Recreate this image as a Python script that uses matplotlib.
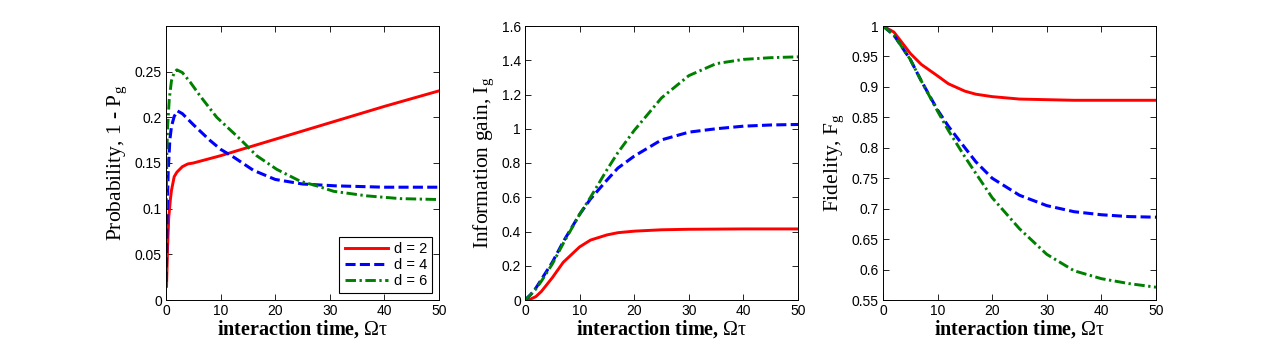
import matplotlib
matplotlib.use("Agg")
import matplotlib.pyplot as plt

# ---------------- data ----------------
# Panel 1: probability 1 - P_g
t_p2 = [0.1, 0.3, 0.5, 0.8, 1.0, 1.5, 2.0, 3.0, 4.0, 5.0, 10, 20, 30, 40, 50]
p_d2 = [0.015, 0.06, 0.09, 0.11, 0.12, 0.135, 0.140, 0.146, 0.149, 0.150, 0.158, 0.176, 0.194, 0.212, 0.229]
t_p4 = [0.05, 0.2, 0.4, 0.7, 1.0, 1.5, 2.1, 3.0, 5.0, 8.0, 10, 12.5, 16, 20, 25, 31, 40, 50]
p_d4 = [0.02, 0.09, 0.14, 0.175, 0.19, 0.201, 0.207, 0.204, 0.192, 0.175, 0.165, 0.156, 0.142, 0.132, 0.127, 0.125, 0.1235, 0.1235]
t_p6 = [0.05, 0.15, 0.3, 0.6, 1.0, 1.5, 2.0, 3.0, 4.5, 6.3, 9.3, 13.6, 16.6, 20.3, 24.6, 27.6, 30.7, 36.8, 42.9, 50]
p_d6 = [0.10, 0.16, 0.19, 0.22, 0.24, 0.249, 0.252, 0.249, 0.238, 0.223, 0.200, 0.176, 0.158, 0.143, 0.130, 0.125, 0.119, 0.114, 0.111, 0.110]

# Panel 2: information gain I_g
t_i = [0, 1, 2, 3, 5, 7, 10, 12, 15, 17, 20, 25, 30, 35, 40, 45, 50]
i_d2 = [0, 0.005, 0.02, 0.05, 0.13, 0.22, 0.31, 0.35, 0.38, 0.393, 0.402, 0.410, 0.413, 0.414, 0.415, 0.415, 0.415]
i_d4 = [0, 0.03, 0.07, 0.12, 0.22, 0.34, 0.50, 0.59, 0.70, 0.77, 0.84, 0.935, 0.98, 1.00, 1.015, 1.022, 1.025]
i_d6 = [0, 0.03, 0.065, 0.11, 0.21, 0.33, 0.50, 0.60, 0.76, 0.86, 0.99, 1.18, 1.31, 1.38, 1.405, 1.415, 1.42]

# Panel 3: fidelity F_g
t_f = [0, 2, 5, 7, 10, 12, 15, 17, 20, 25, 30, 35, 40, 45, 50]
f_d2 = [1.0, 0.99, 0.955, 0.937, 0.918, 0.905, 0.893, 0.888, 0.884, 0.880, 0.879, 0.878, 0.878, 0.878, 0.878]
f_d4 = [1.0, 0.985, 0.945, 0.91, 0.862, 0.835, 0.80, 0.777, 0.750, 0.722, 0.705, 0.695, 0.690, 0.687, 0.686]
f_d6 = [1.0, 0.985, 0.945, 0.91, 0.860, 0.828, 0.785, 0.758, 0.718, 0.667, 0.625, 0.598, 0.585, 0.577, 0.571]

labels = ["d = 2", "d = 4", "d = 6"]
xticks = [0, 10, 20, 30, 40, 50]

# ---------------- plot ----------------
plt.rcParams['font.family'] = ['Liberation Sans', 'DejaVu Sans']
plt.rcParams['mathtext.fontset'] = 'custom'
plt.rcParams['mathtext.rm'] = 'Liberation Serif'
plt.rcParams['mathtext.it'] = 'Liberation Serif:italic'
plt.rcParams['mathtext.bf'] = 'Liberation Serif:bold'

fig = plt.figure(figsize=(12.77, 3.45), dpi=100)
W, H = 1277, 345
lefts = [166, 525, 883]
aw = 273
top, bot = 26, 300
axes = []
for l in lefts:
    ax = fig.add_axes([l / W, 1 - bot / H, aw / W, (bot - top) / H])
    axes.append(ax)

styles = [dict(color='#ff0000', ls='-', lw=2.1),
          dict(color='#0000ff', ls=(0, (3.3, 1.4)), lw=2.2),
          dict(color='#008000', ls=(0, (3.6, 1.2, 0.8, 1.2)), lw=2.1)]

serif = ['Liberation Serif', 'DejaVu Serif']
ylab_kw = dict(fontsize=15.5, family=serif)
xlab = 'interaction time, $\\mathrm{\\Omega\\tau}$'

ax = axes[0]
for (tt, yy), st, lb in zip([(t_p2, p_d2), (t_p4, p_d4), (t_p6, p_d6)], styles, labels):
    ax.plot(tt, yy, label=lb, **st)
ax.set_ylim(0, 0.3)
ax.set_yticks([0, 0.05, 0.1, 0.15, 0.2, 0.25])
ax.set_yticklabels(['0', '0.05', '0.1', '0.15', '0.2', '0.25'])
ax.set_ylabel('Probability, 1 - P$_\\mathrm{g}$', **ylab_kw)
leg = ax.legend(loc='lower right', fontsize=10.5, frameon=True, fancybox=False,
                edgecolor='black', framealpha=1, handlelength=3.0,
                handletextpad=0.4, borderaxespad=0.45, labelspacing=0.15,
                borderpad=0.35)
leg.get_frame().set_linewidth(0.8)

ax = axes[1]
for (tt, yy), st in zip([(t_i, i_d2), (t_i, i_d4), (t_i, i_d6)], styles):
    ax.plot(tt, yy, **st)
ax.set_ylim(0, 1.6)
ax.set_yticks([0, 0.2, 0.4, 0.6, 0.8, 1.0, 1.2, 1.4, 1.6])
ax.set_yticklabels(['0', '0.2', '0.4', '0.6', '0.8', '1', '1.2', '1.4', '1.6'])
ax.set_ylabel('Information gain, I$_\\mathrm{g}$', **ylab_kw)

ax = axes[2]
for (tt, yy), st in zip([(t_f, f_d2), (t_f, f_d4), (t_f, f_d6)], styles):
    ax.plot(tt, yy, **st)
ax.set_ylim(0.55, 1.0)
fy = [0.55, 0.6, 0.65, 0.7, 0.75, 0.8, 0.85, 0.9, 0.95, 1.0]
ax.set_yticks(fy)
ax.set_yticklabels(['0.55', '0.6', '0.65', '0.7', '0.75', '0.8', '0.85', '0.9', '0.95', '1'])
ax.set_ylabel('Fidelity, F$_\\mathrm{g}$', **ylab_kw)

for ax in axes:
    ax.set_xlim(0, 50)
    ax.set_xticks(xticks)
    ax.set_xticklabels([str(x) for x in xticks])
    ax.set_xlabel(xlab, fontsize=14.5, fontweight='bold', family=serif, labelpad=0)
    ax.tick_params(direction='in', length=4, width=0.6, labelsize=10, top=True, right=True, pad=3)
    for s in ax.spines.values():
        s.set_linewidth(0.7)

fig.savefig('out.png', dpi=100)
